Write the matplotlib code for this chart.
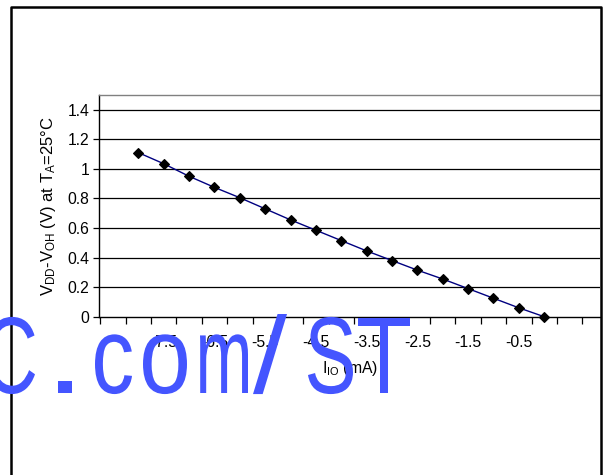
import matplotlib
matplotlib.use("Agg")
import matplotlib.pyplot as plt
from matplotlib.lines import Line2D
from matplotlib.textpath import TextPath
from matplotlib.patches import PathPatch
from matplotlib.font_manager import FontProperties
from matplotlib.transforms import Affine2D

plt.rcParams["font.family"] = ["Liberation Sans", "DejaVu Sans"]
plt.rcParams["mathtext.fontset"] = "custom"
plt.rcParams["mathtext.rm"] = "Liberation Sans"
plt.rcParams["mathtext.it"] = "Liberation Sans:italic"

# Output drive: supply-minus-output-high voltage versus I/O current
current_ma = [-8.0, -7.5, -7.0, -6.5, -6.0, -5.5, -5.0, -4.5, -4.0,
              -3.5, -3.0, -2.5, -2.0, -1.5, -1.0, -0.5, 0.0]
vdd_minus_voh = [1.11, 1.035, 0.95, 0.875, 0.805, 0.73, 0.655, 0.585, 0.515,
                 0.445, 0.38, 0.315, 0.255, 0.19, 0.125, 0.06, 0.0]

x_label_values = [-7.5, -6.5, -5.5, -4.5, -3.5, -2.5, -1.5, -0.5]
x_label_text = ["-7.5", "-6.5", "-5.5", "-4.5", "-3.5", "-2.5", "-1.5", "-0.5"]
x_tick_marks = [-8.75 + 0.5 * k for k in range(20)]
y_ticks = [0, 0.2, 0.4, 0.6, 0.8, 1.0, 1.2, 1.4]
y_tick_text = ["0", "0.2", "0.4", "0.6", "0.8", "1", "1.2", "1.4"]

W, H = 603, 475
fig = plt.figure(figsize=(W / 100, H / 100), dpi=100)
fig.patch.set_facecolor("white")

left, right, top, bottom = 99.3, 600.0, 95.0, 316.7
ax = fig.add_axes([left / W, 1 - bottom / H, (right - left) / W, (bottom - top) / H])

ax.plot(current_ma, vdd_minus_voh, color="#000080", lw=1.0, zorder=3,
        marker="D", markersize=5.0, markerfacecolor="black",
        markeredgecolor="black", markeredgewidth=0.8, clip_on=False)

ax.set_xlim(-8.77, 1.1)
ax.set_ylim(0, 1.5)

# horizontal gridlines
for yv in y_ticks[1:]:
    ax.axhline(yv, color="black", lw=0.9, zorder=1)

ax.set_yticks(y_ticks)
ax.set_yticklabels(y_tick_text, fontsize=11.3)
ax.tick_params(axis="y", direction="out", length=4, width=0.9, pad=3)

ax.set_xticks(x_tick_marks)
ax.set_xticklabels([""] * len(x_tick_marks))
ax.tick_params(axis="x", which="major", direction="out", length=5, width=0.9)
ax.set_xticks(x_label_values, minor=True)
ax.set_xticklabels(x_label_text, minor=True, fontsize=11.3)
ax.tick_params(axis="x", which="minor", length=0, pad=13)

for s in ["left", "bottom"]:
    ax.spines[s].set_color("black")
    ax.spines[s].set_linewidth(1.0)
ax.spines["top"].set_color("#808080")
ax.spines["top"].set_linewidth(1.0)
ax.spines["right"].set_visible(False)

ax.set_ylabel(r"V$_{\mathrm{DD}}$-V$_{\mathrm{OH}}$ (V) at T$_{\mathrm{A}}$=25°C",
              fontsize=12, labelpad=7)
ax.set_xlabel(r"I$_{\mathrm{IO}}$ (mA)", fontsize=11.3, labelpad=7)

# outer frame (open at the bottom)
px = fig.dpi_scale_trans
def fpx(x, y):
    return x / 100, (H - y) / 100
xs = [11, 11, 600.8, 600.8]
ys = [H + 5, 7, 7, H + 5]
pts = [fpx(a, b) for a, b in zip(xs, ys)]
fig.add_artist(Line2D([p[0] for p in pts], [p[1] for p in pts],
                      transform=px, color="black", lw=1.8, zorder=5))

# overlay text: tall, evenly spaced glyphs
overlay_chars = "C.com/ST"
overlay_spans = [(-14, 35), (58, 72), (95, 132), (143, 187),
                 (200, 248), (253, 287), (308, 353), (358, 410)]
baseline = H - 393
glyph_scale_y = 109.0
fp = FontProperties(family="Liberation Sans")
for ch, (x_left, x_right) in zip(overlay_chars, overlay_spans):
    tp = TextPath((0, 0), ch, size=1, prop=fp)
    ext = tp.get_extents()
    sx = (x_right - x_left) / ext.width
    tr = (Affine2D().translate(-ext.x0, 0)
          .scale(sx / 100, glyph_scale_y / 100)
          .translate(x_left / 100, baseline / 100) + px)
    fig.add_artist(PathPatch(tp, transform=tr, facecolor="#4455ff",
                             edgecolor="none", zorder=10))

fig.savefig("out.png", dpi=100)
